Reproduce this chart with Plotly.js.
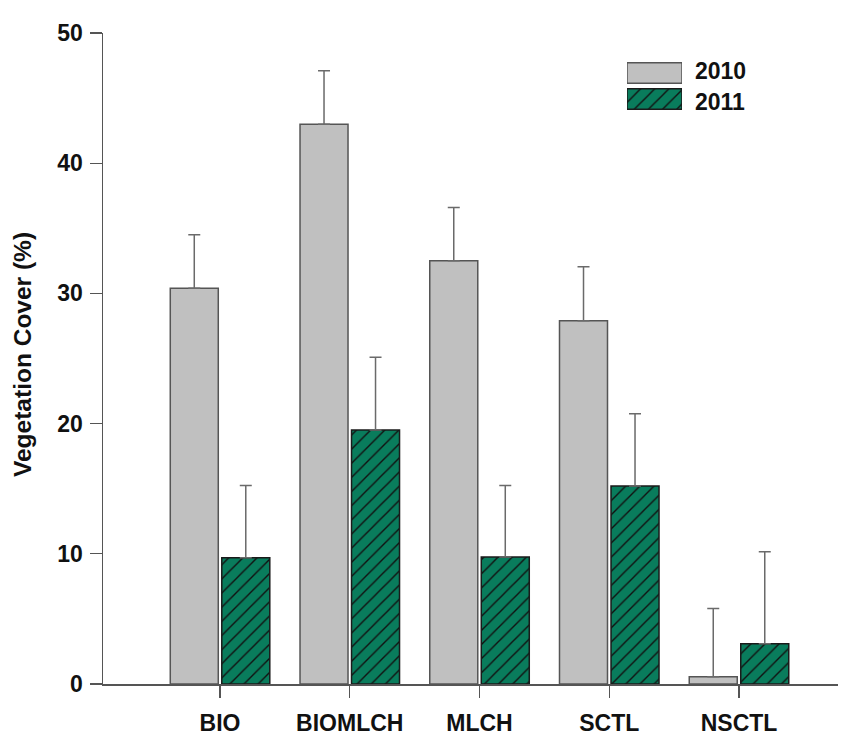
<!DOCTYPE html>
<html>
<head>
<meta charset="utf-8">
<script src="https://cdn.plot.ly/plotly-3.0.1.min.js"></script>
<style>html,body{margin:0;padding:0;background:#fff;}#chart{width:852px;height:747px;}</style>
</head>
<body>
<div id="chart"></div>
<script>
// ---- data ----
const categories = ['BIO', 'BIOMLCH', 'MLCH', 'SCTL', 'NSCTL'];
const series2010 = [30.4, 43.0, 32.5, 27.9, 0.55];
const err2010 = [4.1, 4.1, 4.1, 4.15, 5.25];
const series2011 = [9.7, 19.5, 9.75, 15.2, 3.1];
const err2011 = [5.55, 5.6, 5.5, 5.55, 7.05];
const seriesNames = ['2010', '2011'];
const yTicks = [0, 10, 20, 30, 40, 50];

// ---- styles ----
const FONT = 'Liberation Sans, Arial, Helvetica, sans-serif';
const GRAY = '#c0c0c0';
const GREEN = '#097c5c';
const zeros = categories.map(() => 0);
const TXT = { family: FONT, size: 23, color: '#111', weight: 700 };

const errStyle = (arr) => ({
  type: 'data', array: arr, arrayminus: zeros, symmetric: false,
  visible: true, color: '#6a6a6a', thickness: 1.5, width: 6
});

const grayMarker = { color: GRAY, line: { color: '#555', width: 1.5 } };
const greenMarker = {
  color: GREEN, line: { color: '#1a1a1a', width: 1.5 },
  pattern: { shape: '/', fgcolor: '#111', bgcolor: GREEN, size: 10, solidity: 0.14 }
};

const traces = [
  {
    type: 'bar', name: seriesNames[0], x: categories, y: series2010,
    marker: grayMarker, error_y: errStyle(err2010), hoverinfo: 'skip'
  },
  {
    type: 'bar', name: seriesNames[1], x: categories, y: series2011,
    marker: greenMarker, error_y: errStyle(err2011), hoverinfo: 'skip'
  },
  // legend swatches drawn on a small inset axis
  {
    type: 'bar', orientation: 'h', x: [1], y: [seriesNames[0]], width: 0.79, offset: -0.395,
    xaxis: 'x2', yaxis: 'y2', hoverinfo: 'skip', marker: grayMarker
  },
  {
    type: 'bar', orientation: 'h', x: [1], y: [seriesNames[1]], width: 0.79, offset: -0.395,
    xaxis: 'x2', yaxis: 'y2', hoverinfo: 'skip', marker: greenMarker
  }
];

const plotL = 103, plotR = 838, plotT = 33, plotB = 684;
const W = 852, H = 747;
const px2paperX = (px) => (px - plotL) / (plotR - plotL);
const px2paperY = (py) => (plotB - py) / (plotB - plotT);

const layout = {
  width: W, height: H,
  margin: { l: plotL, r: W - plotR, t: plotT, b: H - plotB },
  paper_bgcolor: '#fff', plot_bgcolor: 'rgba(0,0,0,0)',
  showlegend: false,
  barmode: 'group', bargap: 0.206, bargroupgap: 0.068,
  font: TXT,
  xaxis: {
    type: 'category', range: [-0.902, 4.763],
    showline: true, linecolor: '#555', linewidth: 1.5,
    ticks: 'outside', ticklen: 12, tickwidth: 1.2, tickcolor: '#555',
    tickfont: TXT, ticklabelstandoff: 6,
    showgrid: false, zeroline: false, fixedrange: true
  },
  yaxis: {
    range: [0, 50], tickvals: yTicks,
    showline: true, linecolor: '#555', linewidth: 1.5,
    ticks: 'outside', ticklen: 12, tickwidth: 1.2, tickcolor: '#555',
    tickfont: TXT, ticklabelstandoff: 2,
    showgrid: false, zeroline: false, fixedrange: true
  },
  xaxis2: {
    domain: [px2paperX(627), px2paperX(682)], range: [0, 1], anchor: 'y2',
    visible: false, fixedrange: true
  },
  yaxis2: {
    domain: [px2paperY(112), px2paperY(60)], anchor: 'x2', type: 'category',
    categoryorder: 'array', categoryarray: [seriesNames[1], seriesNames[0]],
    range: [-0.5, 1.5], visible: false, fixedrange: true
  },
  annotations: seriesNames.map((n, i) => ({
    text: n, xref: 'paper', yref: 'paper', xanchor: 'left', yanchor: 'middle',
    x: px2paperX(693), y: px2paperY(i === 0 ? 71 : 102), showarrow: false,
    font: TXT
  })).concat([{
    text: 'Vegetation Cover (%)', xref: 'paper', yref: 'paper',
    x: px2paperX(22), y: px2paperY(355), textangle: -90,
    xanchor: 'center', yanchor: 'middle', showarrow: false,
    font: { family: FONT, size: 24.5, color: '#111', weight: 700 }
  }])
};

Plotly.newPlot('chart', traces, layout, { displayModeBar: false, staticPlot: true });
</script>
</body>
</html>
